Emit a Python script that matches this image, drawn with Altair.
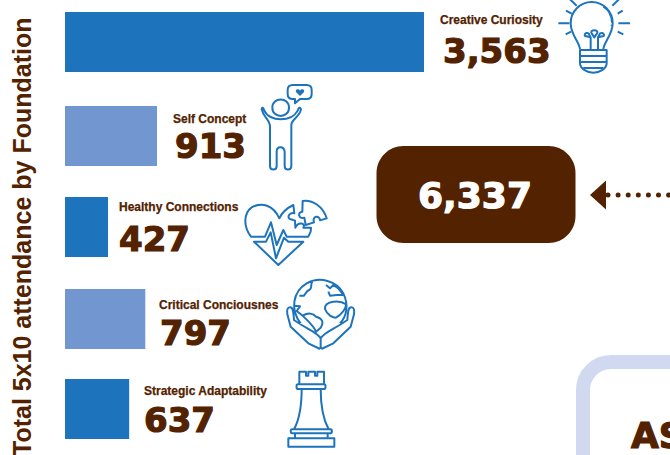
import altair as alt
import pandas as pd

foundations = ["Creative Curiosity", "Self Concept", "Healthy Connections", "Critical Conciousnes", "Strategic Adaptability"]
attendance = [3563, 913, 427, 797, 637]
total_attendance = sum(attendance)
axis_title = "Total 5x10 attendance by Foundation"

BLUE = "#1D73BC"
LIGHT_BLUE = "#7297D0"
BROWN = "#532200"
FRAME = "#D0D9F0"
bar_colors = [BLUE, LIGHT_BLUE, BLUE, LIGHT_BLUE, BLUE]

# Page layout, in pixels
bar_top = [12, 106, 197, 289, 379]
label_left = [440, 173, 119, 159, 144]
label_base = [24, 123, 211, 309, 395]
value_left = [443, 175, 119, 160, 144]
value_base = [63, 158, 251, 345, 432]

rows = pd.DataFrame({
    "foundation": foundations,
    "attendance": attendance,
    "color": bar_colors,
    "top": bar_top,
    "bottom": [t + 60 for t in bar_top],
    "label_x": label_left,
    "label_y": label_base,
    "value_x": value_left,
    "value_y": value_base,
})

px_x = lambda f: alt.X(f, type="quantitative", scale=None, axis=None)
px_y = lambda f: alt.Y(f, type="quantitative", scale=None, axis=None)

bars = alt.Chart(rows).mark_bar().encode(
    x=alt.X("attendance:Q", axis=None, scale=alt.Scale(domain=[0, 3563], range=[65, 424])),
    x2=alt.value(65),
    y=px_y("top"),
    y2=alt.Y2("bottom"),
    color=alt.Color("color:N", scale=None),
)

labels = alt.Chart(rows).mark_text(
    align="left", baseline="alphabetic", font="Liberation Sans", fontWeight="bold",
    fontSize=12, color=BROWN, stroke=BROWN, strokeWidth=0.25,
).encode(x=px_x("label_x"), y=px_y("label_y"), text="foundation:N")

values = alt.Chart(rows).mark_text(
    align="left", baseline="alphabetic", font="DejaVu Sans", fontWeight="bold",
    fontSize=34, color=BROWN, stroke=BROWN, strokeWidth=1.2,
).encode(x=px_x("value_x"), y=px_y("value_y"), text=alt.Text("attendance:Q", format=","))

title = alt.Chart(pd.DataFrame({"t": [axis_title]})).mark_text(
    align="left", baseline="alphabetic", angle=270, font="Liberation Sans",
    fontWeight="bold", fontSize=25, color=BROWN,
).encode(x=alt.value(31), y=alt.value(456), text="t:N")

# Callout box holding the overall total
box = alt.Chart(pd.DataFrame({"a": [0]})).mark_rect(color=BROWN, cornerRadius=27).encode(
    x=alt.value(376.5), x2=alt.value(575.5), y=alt.value(146), y2=alt.value(243)
)
box_value = alt.Chart(pd.DataFrame({"v": [total_attendance]})).mark_text(
    align="center", baseline="alphabetic", font="DejaVu Sans", fontWeight="bold",
    fontSize=36, color="white", stroke="white", strokeWidth=1.2,
).encode(x=alt.value(475), y=alt.value(208), text=alt.Text("v:Q", format=","))

arrow_head = alt.Chart(pd.DataFrame({"a": [0]})).mark_point(
    shape="M -16 0 L 0 -14.5 L 0 14.5 Z", size=4, filled=True, opacity=1, color=BROWN,
).encode(x=alt.value(606), y=alt.value(195))
arrow_dots = alt.Chart(pd.DataFrame({"a": [0]})).mark_rule(
    color=BROWN, strokeWidth=5, strokeCap="round", strokeDash=[0, 10.1],
).encode(x=alt.value(608), x2=alt.value(670), y=alt.value(195))

# Partly visible panel in the lower right corner
frame = alt.Chart(pd.DataFrame({"a": [0]})).mark_rect(
    fill="white", stroke=FRAME, strokeWidth=14, cornerRadius=28,
).encode(x=alt.value(583), x2=alt.value(780), y=alt.value(362), y2=alt.value(580))
frame_text = alt.Chart(pd.DataFrame({"t": ["AS"]})).mark_text(
    align="left", baseline="alphabetic", font="DejaVu Sans", fontWeight="bold",
    fontSize=36, color=BROWN, stroke=BROWN, strokeWidth=1.2,
).encode(x=alt.value(631), y=alt.value(448), text="t:N")

# Icons: outlines sketched at triple scale around the icon's corner (size 4/9 gives scale 1/3)
bulb = (
    "M90 148 C88 125 62 105 62 70 C62 35 90 6 125 6 C160 6 188 35 188 70 C188 105 162 125 160 148 "
    "M25 70 L58 70 M205 70 L240 70 M48 32 L65 41 M47 103 L63 95 M203 41 L218 32 M203 95 L220 103 "
    "M60 -2 L80 17 M207 -2 L187 17 M160 20 C175 28 185 45 186 68 M185 74 L185 77 "
    "M122 148 L122 112 L105 108 C100 98 118 95 118 105 L122 112 M144 148 L144 112 L161 108 "
    "C166 98 148 95 148 105 L144 112 M125 100 C118 88 148 88 141 100 L133 112 Z "
    "M88 150 L172 150 M88 168 L172 168 M88 186 L172 186 M100 204 L160 204 "
    "M90 150 L90 190 C90 205 110 218 130 218 C150 218 170 205 170 190 L170 150"
)
person = (
    "M35 88 C40 112 60 118 60 140 L60 258 C60 272 80 272 80 258 L80 215 C80 197 102 197 104 215 "
    "L104 258 C104 272 124 272 124 258 L124 135 C124 118 148 112 153 88 C150 80 146 82 143 92 "
    "C135 108 115 118 92 118 C70 118 50 108 43 92 C40 82 36 80 35 88 Z "
    "M117 83 C117 116 67 116 67 83 C67 50 117 50 117 83 Z "
    "M128 15 L170 15 C180 15 185 22 185 30 L185 42 C185 52 178 57 170 57 L150 57 L135 70 L135 57 "
    "L128 57 C118 57 113 50 113 42 L113 30 C113 22 118 15 128 15 Z"
)
person_heart = "M150 48 L138 36 C134 28 146 24 150 32 C154 24 166 28 162 36 Z"
heart = (
    "M33 125 C10 95 10 55 35 37 C65 20 100 30 118 70 C125 55 135 42 160 30 L163 55 C148 50 140 68 150 72 "
    "L165 77 L166 98 C175 78 198 85 190 98 L213 98 L212 110 L205 125 L140 125 L130 105 L110 150 L93 82 "
    "L75 125 Z M42 140 L78 140 L92 112 L108 190 L132 128 L145 140 L190 140 L115 210 Z "
    "M188 18 C215 12 250 35 260 70 L240 76 C240 60 215 62 222 82 L197 90 L193 68 C175 75 172 50 187 50 Z"
)
globe = (
    "M62 145 C30 105 38 50 80 25 C120 3 170 18 190 55 C207 90 200 125 180 145 "
    "M97 20 C88 32 102 40 82 48 L72 62 L58 62 M44 92 L60 94 L50 108 L68 122 C85 112 100 115 108 125 "
    "C128 130 132 142 122 158 L108 170 C100 150 80 135 68 122 "
    "M135 102 C134 90 142 82 160 80 C175 78 190 82 199 88 C194 112 178 122 168 128 C160 128 142 122 135 102 Z "
    "M138 30 L150 40 L160 30 L175 40 L190 60 L170 60 L150 62 L145 50 "
    "M30 97 C22 97 20 105 22 118 L32 155 L85 205 L120 222 M30 97 C38 97 40 105 42 135 L65 150 "
    "C90 165 115 175 122 190 L122 222 M214 97 C222 97 224 105 222 118 L212 155 L160 205 L124 222 "
    "M214 97 C206 97 204 105 202 135 L179 150 C154 165 129 175 122 190"
)
rook = (
    "M58 56 L58 20 L78 20 L78 32 L85 32 L85 20 L105 20 L105 32 L112 32 L112 20 L132 20 L132 56 "
    "M54 58 L132 58 C138 58 138 72 132 72 L54 72 C48 72 48 58 54 58 Z "
    "M65 72 C65 110 60 160 42 193 M122 72 C122 110 128 160 146 193 "
    "M36 193 L152 193 C157 193 157 205 152 205 L36 205 C31 205 31 193 36 193 Z "
    "M45 205 L45 220 M143 205 L143 220 M25 220 L163 220 L163 245 L25 245 Z"
)

icon_origins = {
    "bulb": (550, 0), "person": (250, 80), "heart": (240, 195), "globe": (280, 275), "rook": (280, 365),
}
icon_paths = {"bulb": bulb, "person": person, "heart": heart, "globe": globe, "rook": rook}


def icon(name):
    ox, oy = icon_origins[name]
    return alt.Chart(pd.DataFrame({"a": [0]})).mark_point(
        shape=icon_paths[name], size=4 / 9, filled=False, opacity=1, stroke=BLUE, strokeWidth=2, strokeJoin="round",
    ).encode(x=alt.value(ox), y=alt.value(oy))


heart_fill = alt.Chart(pd.DataFrame({"a": [0]})).mark_point(
    shape=person_heart, size=4 / 9, filled=True, opacity=1, color=BLUE,
).encode(x=alt.value(250), y=alt.value(80))

chart = alt.layer(
    frame, frame_text, bars, labels, values, title, box, box_value, arrow_head, arrow_dots,
    *[icon(n) for n in icon_paths], heart_fill,
).resolve_scale(x="independent", y="independent").properties(
    width=670, height=455, padding=0, autosize=alt.AutoSizeParams(type="none"),
    background="white",
).configure_view(stroke=None)

chart.save("out.html", embed_options={"renderer": "svg", "actions": False})
